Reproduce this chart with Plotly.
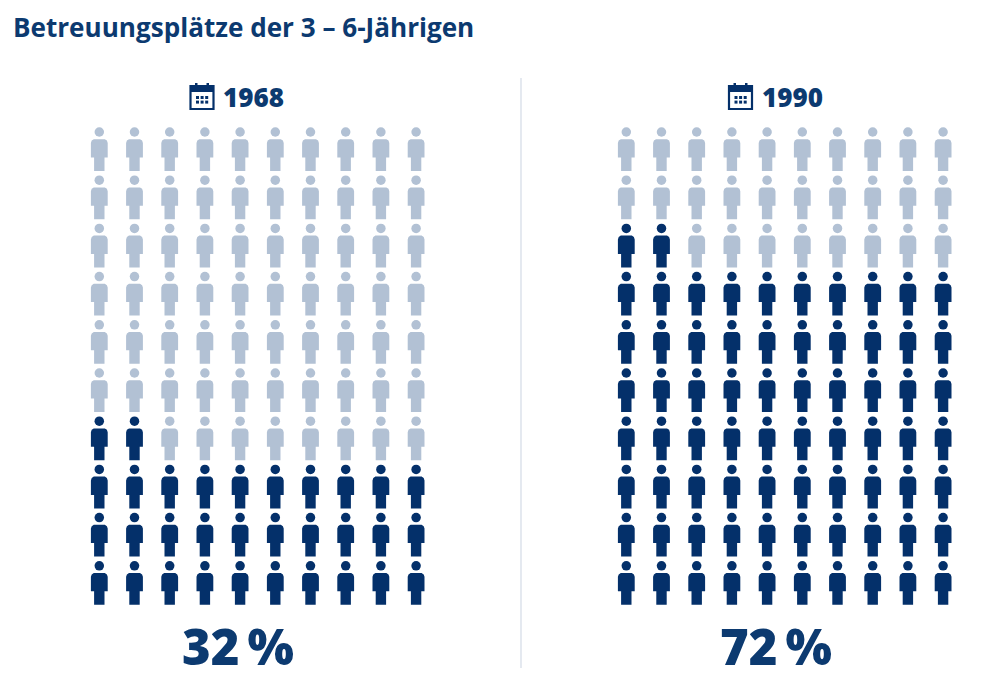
import plotly.graph_objects as go

years = ["1968", "1990"]
percent = [32, 72]
n_cols = 10
n_rows = 10
title = "Betreuungsplätze der 3 – 6-Jährigen"

DARK = "#04306a"
LIGHT = "#b2c1d4"
TEXT = "#0c3a70"

# pixel sizes of one grid step, the axes are in grid steps
STEP_X = 35.2
STEP_Y = 48.2
# body outline relative to the head centre, in px
BODY = [(-8.4, 11), (-7.6, 8.6), (-5.5, 7.2), (5.5, 7.2), (7.6, 8.6), (8.4, 11),
        (8.4, 25.5), (5.2, 25.5), (5.2, 39), (-5.2, 39), (-5.2, 25.5), (-8.4, 25.5), (-8.4, 11)]


def add_people(fig, col, cells, color):
    xs, ys = [], []
    heads_x, heads_y = [], []
    for c, r in cells:
        heads_x.append(c)
        heads_y.append(r)
        for dx, dy in BODY:
            xs.append(c + dx / STEP_X)
            ys.append(r + dy / STEP_Y)
        xs.append(None)
        ys.append(None)
    fig.add_trace(go.Scatter(x=xs, y=ys, mode="lines", fill="toself", fillcolor=color,
                             line=dict(width=0, color=color), hoverinfo="skip"), row=1, col=col)
    fig.add_trace(go.Scatter(x=heads_x, y=heads_y, mode="markers",
                             marker=dict(symbol="circle", size=9.5, color=color, line=dict(width=0)),
                             hoverinfo="skip"), row=1, col=col)


def calendar(x0, y0):
    # little calendar icon, px of top left corner, returned as paper shapes
    W, H = 999.0, 680.0
    def rect(a, b, c, d, **kw):
        return dict(type="rect", xref="paper", yref="paper", x0=(x0 + a) / W, x1=(x0 + c) / W,
                    y0=1 - (y0 + b) / H, y1=1 - (y0 + d) / H, **kw)
    out = [rect(1, 3, 24, 26, line=dict(color=DARK, width=2.2), fillcolor="white"),
           rect(1, 3, 24, 9, line=dict(width=0), fillcolor=DARK),
           rect(5.5, 0, 8, 4, line=dict(width=0), fillcolor=DARK),
           rect(17, 0, 19.5, 4, line=dict(width=0), fillcolor=DARK)]
    for i in range(3):
        for j in range(2):
            a = 6.5 + i * 4.6
            b = 13 + j * 4.6
            out.append(rect(a, b, a + 3, b + 3, line=dict(width=0), fillcolor=DARK))
    return out


fig = go.Figure()
fig.set_subplots(rows=1, cols=2, horizontal_spacing=0)

for i, pct in enumerate(percent):
    dark, light = [], []
    for k in range(n_cols * n_rows):
        cell = (k % n_cols, n_rows - 1 - k // n_cols)
        (dark if k < pct else light).append(cell)
    add_people(fig, i + 1, light, LIGHT)
    add_people(fig, i + 1, dark, DARK)

left_px = [99.3, 626.3]
dom = [(0, 499.5), (499.5, 999)]
for i in range(2):
    fig.update_xaxes(domain=[dom[i][0] / 999, dom[i][1] / 999],
                     range=[(dom[i][0] - left_px[i]) / STEP_X, (dom[i][1] - left_px[i]) / STEP_X],
                     visible=False, row=1, col=i + 1)
    fig.update_yaxes(range=[(680 - 132) / STEP_Y, (0 - 132) / STEP_Y], visible=False, row=1, col=i + 1)

annotations = [dict(text=title, x=10.5 / 999, y=1 - 27 / 680, xref="paper", yref="paper", xanchor="left",
                    yanchor="middle", showarrow=False,
                    font=dict(family="Open Sans", size=26.1, color=TEXT, weight=700))]
year_x = [253.5, 792]
pct_x = [237.5, 776]
shapes = [dict(type="line", xref="paper", yref="paper", x0=521 / 999, x1=521 / 999,
               y0=1 - 78 / 680, y1=1 - 668 / 680, line=dict(color="#d3dbe6", width=1.2))]
for i, year in enumerate(years):
    annotations.append(dict(text=year, x=year_x[i] / 999, y=1 - 97 / 680, xref="paper", yref="paper",
                            xanchor="center", yanchor="middle", showarrow=False,
                            font=dict(family="Open Sans", size=26, color=TEXT, weight=800)))
    annotations.append(dict(text=f"{percent[i]}\u2009%", x=pct_x[i] / 999, y=1 - 646 / 680, xref="paper",
                            yref="paper", xanchor="center", yanchor="middle", showarrow=False,
                            font=dict(family="Open Sans", size=49, color=TEXT, weight=800)))
    shapes += calendar(year_x[i] - 64, 83)

fig.update_layout(width=999, height=680, margin=dict(l=0, r=0, t=0, b=0), showlegend=False,
                  paper_bgcolor="white", plot_bgcolor="white", annotations=annotations, shapes=shapes)
fig.write_html("out.html", config=dict(displayModeBar=False), post_script="document.body.style.margin='0';")
